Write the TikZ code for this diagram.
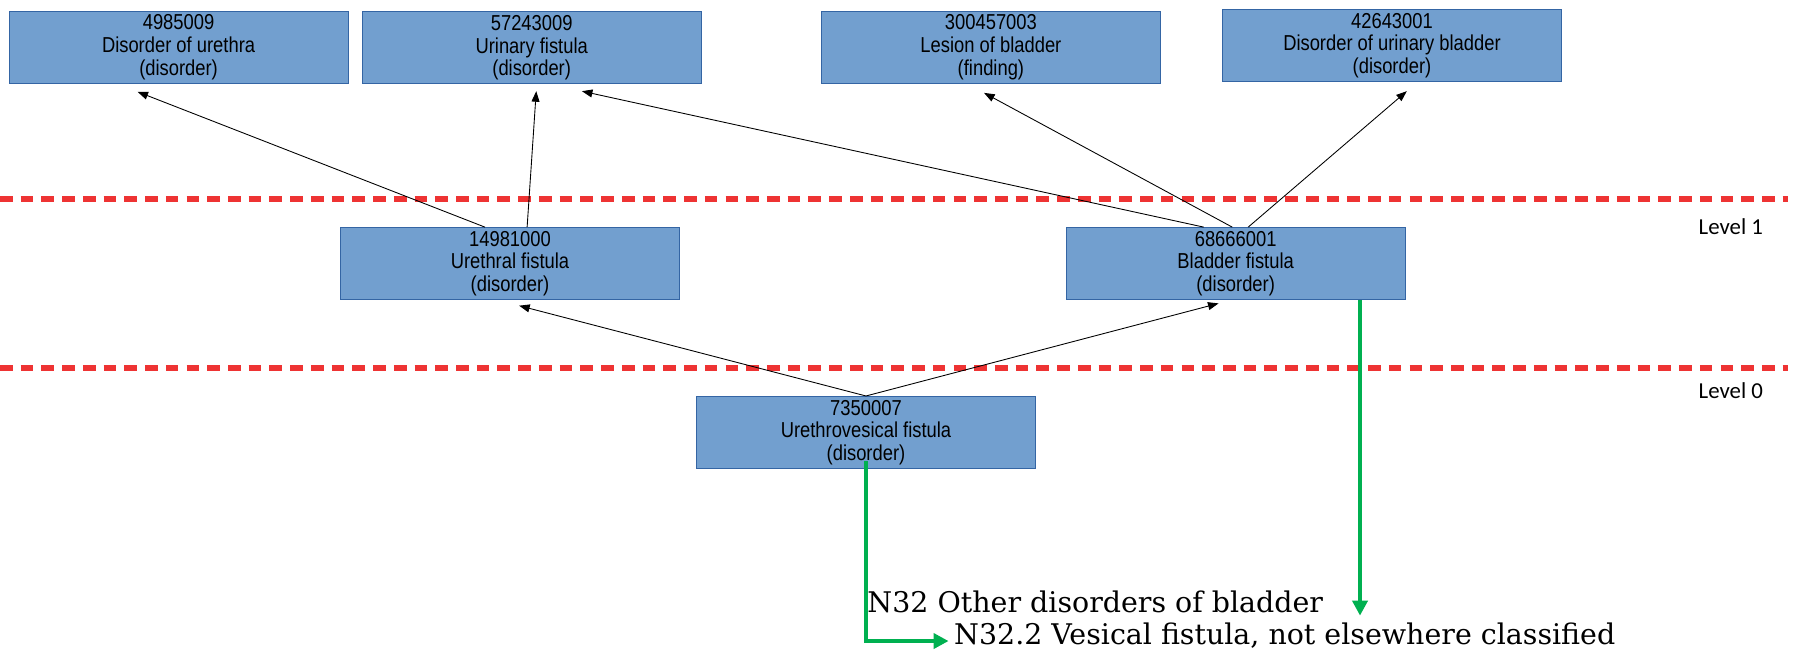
\documentclass[tikz,border=0pt]{standalone}
\usepackage{fontspec}
\setmainfont{Liberation Sans}
\newfontfamily\boxfont[FakeStretch=0.85]{Liberation Sans}
\newfontfamily\lvlfont{Carlito}
\newfontfamily\icdfont{DejaVu Serif}
\usetikzlibrary{calc,arrows.meta}
\definecolor{boxfill}{HTML}{729FCF}
\definecolor{boxline}{HTML}{3465A4}
\definecolor{lvlred}{HTML}{EE3333}
\definecolor{mapgreen}{HTML}{00B050}
\tikzset{>={Triangle[length=6pt,width=4.5pt]}}
\tikzset{
  concept/.style={draw=boxline,fill=boxfill,line width=.5pt,minimum width=6.78cm,
    minimum height=1.44cm,align=center,inner sep=0pt,
    font=\boxfont\fontsize{12.3}{12.9}\selectfont},
  levelline/.style={lvlred,line width=3.6pt,dash pattern=on 7.2pt off 4.6pt},
  levellabel/.style={font=\lvlfont\fontsize{13}{15}\selectfont},
  icdtext/.style={anchor=base west,inner sep=0pt,font=\icdfont\fontsize{16.2}{19}\selectfont},
  isa/.style={->,line width=.5pt},
  mapsto/.style={mapgreen,line width=2.3pt,-{Triangle[length=8.5pt,width=8.5pt]}}
}

\begin{document}
\begin{tikzpicture}[x=0.02282cm,y=-0.02282cm]
\useasboundingbox (0,0) rectangle (1575,572.3);
% level separators
\draw[levelline] (0,174.4) -- (1567,174.4);
\draw[levelline] (0,322.5) -- (1567,322.5);
\node[levellabel] (lvl1) at (1517,199) {Level 1};
\node[levellabel] (lvl0) at (1517,342) {Level 0};
% parents
\node[concept] (uret) at (156.5,41.5) {4985009\\Disorder of urethra\\(disorder)};
\node[concept] (urfist) at (466,42) {57243009\\Urinary fistula\\(disorder)};
\node[concept] (lesion) at (868.5,41.5) {300457003\\Lesion of bladder\\(finding)};
\node[concept] (durb) at (1220,40) {42643001\\Disorder of urinary bladder\\(disorder)};
% level 1
\node[concept] (urethfist) at (447,231) {14981000\\Urethral fistula\\(disorder)};
\node[concept] (bladfist) at (1083,231) {68666001\\Bladder fistula\\(disorder)};
% level 0
\node[concept] (uvfist) at (759,379) {7350007\\Urethrovesical fistula\\(disorder)};
% is-a links
\draw[isa] ($(urethfist.north)+(-22,0)$) -- ($(uret.south)+(-36,7)$);
\draw[isa] ($(urethfist.north)+(15,0)$) -- ($(urfist.south)+(4,6)$);
\draw[isa] ($(bladfist.north)+(-28,0)$) -- ($(urfist.south)+(44,6)$);
\draw[isa] ($(bladfist.north)+(-3,0)$) -- ($(lesion.south)+(-6,8)$);
\draw[isa] ($(bladfist.north)+(11,0)$) -- ($(durb.south)+(13,8)$);
\draw[isa] (uvfist.north) -- ($(urethfist.south)+(8,5)$);
\draw[isa] (uvfist.north) -- ($(bladfist.south)+(-15,3)$);
% ICD-10 text
\node[icdtext] (n32) at (760,537) {N32 Other disorders of bladder};
\node[icdtext] (n322) at (836,565) {N32.2 Vesical fistula, not elsewhere classified};
% mappings
\coordinate (gs) at ($(uvfist.south)+(0,-7)$);
\coordinate (fb) at ($(bladfist.south)+(109,0)$);
\draw[mapsto] (gs) |- ([xshift=-3pt,yshift=-3pt]n322.west);
\draw[mapsto,shorten >=4pt] (fb) -- (fb |- n322.north);
\end{tikzpicture}
\end{document}
